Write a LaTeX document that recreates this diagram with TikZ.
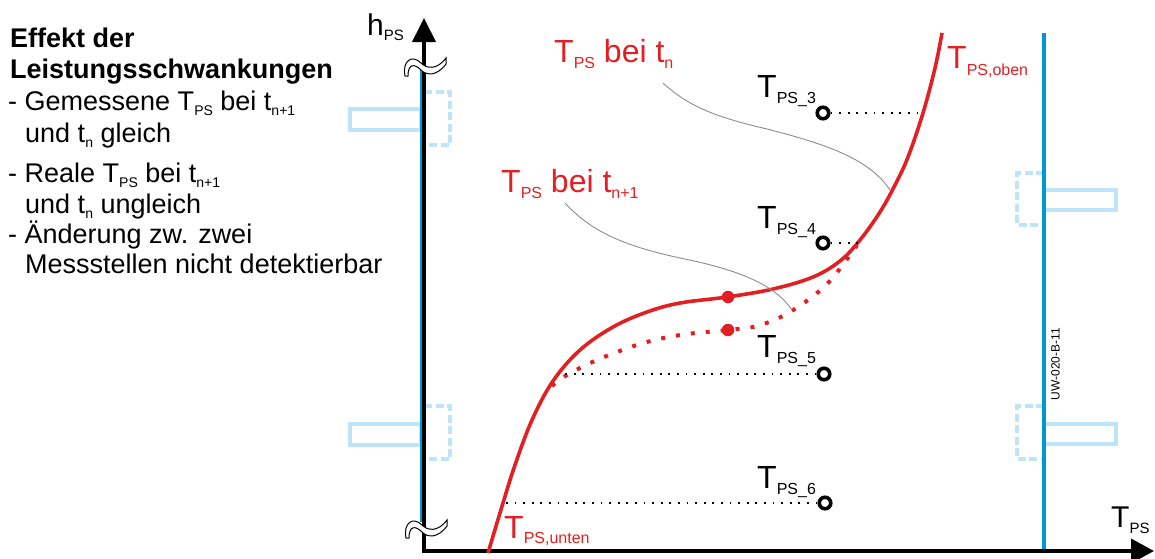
\documentclass[tikz,border=0pt]{standalone}
\usepackage{fontspec}
\setmainfont{Liberation Sans}
\usetikzlibrary{arrows.meta}
\definecolor{cred}{RGB}{226,32,36}
\definecolor{cblue}{RGB}{0,150,214}
\definecolor{clight}{RGB}{190,228,247}
\definecolor{cgray}{RGB}{140,140,140}
\newcommand{\fs}[1]{\fontsize{#1}{#1}\selectfont}
\newcommand{\sbx}[3]{\raisebox{-#1pt}{\fs{#2}#3}}
\tikzset{
  txt/.style={anchor=base west, inner sep=0pt, font=\fs{27}},
  lab/.style={anchor=base west, inner sep=0pt},
  redlab/.style={anchor=base west, inner sep=0pt, text=cred},
  axisline/.style={line width=4pt, line join=miter},
  pocket/.style={draw=clight, line width=4pt},
  pocketd/.style={draw=clight, line width=4.5pt, dash pattern=on 8pt off 3.5pt},
  bluel/.style={draw=cblue, line width=4pt},
  mp/.style={circle, draw=black, line width=3.6pt, fill=white, minimum size=11.5pt, inner sep=0pt},
  rdot/.style={circle, fill=cred, minimum size=12.5pt, inner sep=0pt},
  blackdot/.style={line width=1.8pt, dash pattern=on 1.8pt off 6.8pt},
  redcurve/.style={draw=cred, line width=3.6pt},
  reddots/.style={draw=cred, line width=4pt, dash pattern=on 4pt off 11pt},
  leader/.style={draw=cgray, line width=0.9pt},
  brk/.pic={\filldraw[fill=white, draw=black, line width=1pt]
     (-19,10) .. controls (-22,-5) and (-12,-12) .. (-3,-3)
     .. controls (3,3) and (13,4) .. (22,-8) -- (22,-2)
     .. controls (13,10) and (3,10) .. (-3,4)
     .. controls (-10,-3) and (-16,-2) .. (-16,10) -- cycle;}
}
\begin{document}
\begin{tikzpicture}[x=1pt,y=-1pt]
\useasboundingbox (0,0) rectangle (1155,558);

% light blue pockets
\draw[pocket] (350,109) rectangle (421,130);
\draw[pocketd] (424,92) -- (450,92) -- (450,145) -- (424,145);
\draw[pocket] (350,424) rectangle (421,445);
\draw[pocketd] (424,406) -- (450,406) -- (450,459) -- (424,459);
\draw[pocket] (1044,190) rectangle (1116,210);
\draw[pocketd] (1044,173) -- (1017,173) -- (1017,225) -- (1044,225);
\draw[pocket] (1044,424) rectangle (1116,444);
\draw[pocketd] (1044,406) -- (1017,406) -- (1017,459) -- (1044,459);

% blue walls
\coordinate (bl1) at (421.5,67);
\coordinate (bl2) at (421.5,522);
\coordinate (br1) at (1044,33);
\coordinate (br2) at (1044,551);
\draw[bluel] (bl1) -- (bl2);
\draw[bluel] (br1) -- (br2);
\node[rotate=90, inner sep=0pt, font=\fs{12}] (uw) at (1055.5,364) {UW-020-B-11};

% axes
\coordinate (ytip) at (424,18);
\coordinate (O) at (424,551);
\coordinate (xtip) at (1154,551);
\draw[axisline, {Triangle[length=24pt,width=23pt]}-{Triangle[length=23pt,width=24pt]}] (ytip) -- (O) -- (xtip);
\pic at (424,66) {brk};
\pic at (425,528) {brk};

\node[lab] (hps) at (367,35) {\fs{30}h\sbx{5}{15}{PS}};
\node[lab] (tps) at (1111,527) {\fs{30}T\sbx{6}{15}{PS}};

% curves
\draw[redcurve] plot[smooth, tension=0.6] coordinates {(488,553) (503,503) (515,465) (532,420) (553,381) (580,350) (613,327) (647,312) (680,303) (727,297) (773,289) (813,277) (840,261) (860,240) (880,212) (895,185) (908,157) (923,113) (935,68) (942,33)};
\draw[reddots] plot[smooth, tension=0.6] coordinates {(552,386) (567,375) (597,360) (640,344) (680,335) (727,330) (757,326) (790,312) (827,284) (857,245)};
\node[rdot] (d1) at (728,297) {};
\node[rdot] (d2) at (728,330) {};

% measurement points
\node[mp] (m3) at (823,113) {};
\node[mp] (m4) at (823,243) {};
\node[mp] (m5) at (824,374) {};
\node[mp] (m6) at (825,503) {};
\coordinate (c3) at (922,113);
\coordinate (c4) at (858,243);
\coordinate (c5) at (562,374);
\coordinate (c6) at (504,503);
\draw[blackdot] (m3) -- (c3);
\draw[blackdot] (m4) -- (c4);
\draw[blackdot] (m5) -- (c5);
\draw[blackdot] (m6) -- (c6);
\node[lab] (l3) at (757,97) {\fs{32}T\sbx{6}{16}{PS\_3}};
\node[lab] (l4) at (757,228) {\fs{32}T\sbx{6}{16}{PS\_4}};
\node[lab] (l5) at (757,357) {\fs{32}T\sbx{6}{16}{PS\_5}};
\node[lab] (l6) at (757,488) {\fs{32}T\sbx{6}{16}{PS\_6}};

% red labels
\node[redlab] (rn) at (554,62) {\fs{32}T\sbx{6}{16}{PS} bei t\sbx{6}{16}{n}};
\node[redlab] (rn1) at (501,192) {\fs{32}T\sbx{6}{16}{PS} bei t\sbx{6}{16}{n+1}};
\node[redlab] (ro) at (947,68) {\fs{32}T\sbx{7}{16}{PS,oben}};
\node[redlab] (ru) at (504,538) {\fs{32}T\sbx{5}{16}{PS,unten}};

% leaders
\coordinate (g1s) at (663,83);
\coordinate (g1e) at (890,190);
\coordinate (g2s) at (565,203);
\coordinate (g2e) at (792,310);
\draw[leader] (g1s) .. controls (690,108) and (720,118) .. (767,129) .. controls (830,145) and (870,160) .. (g1e);
\draw[leader] (g2s) .. controls (590,230) and (620,245) .. (680,258) .. controls (740,270) and (775,285) .. (g2e);

% left text
\node[txt, font=\fs{27}\bfseries] (t1) at (10,47) {Effekt der};
\node[txt, font=\fs{27}\bfseries] (t2) at (10,78) {Leistungsschwankungen};
\node[txt] (t3) at (8,110) {- Gemessene T\sbx{5}{14}{PS} bei t\sbx{5}{14}{n+1}};
\node[txt] (t4) at (25,142) {und t\sbx{5}{14}{n} gleich};
\node[txt] (t5) at (8,182) {- Reale T\sbx{5}{14}{PS} bei t\sbx{5}{14}{n+1}};
\node[txt] (t6) at (25,213) {und t\sbx{5}{14}{n} ungleich};
\node[txt] (t7) at (8,243) {- Änderung zw. zwei};
\node[txt] (t8) at (25,273) {Messstellen nicht detektierbar};
\end{tikzpicture}
\end{document}
